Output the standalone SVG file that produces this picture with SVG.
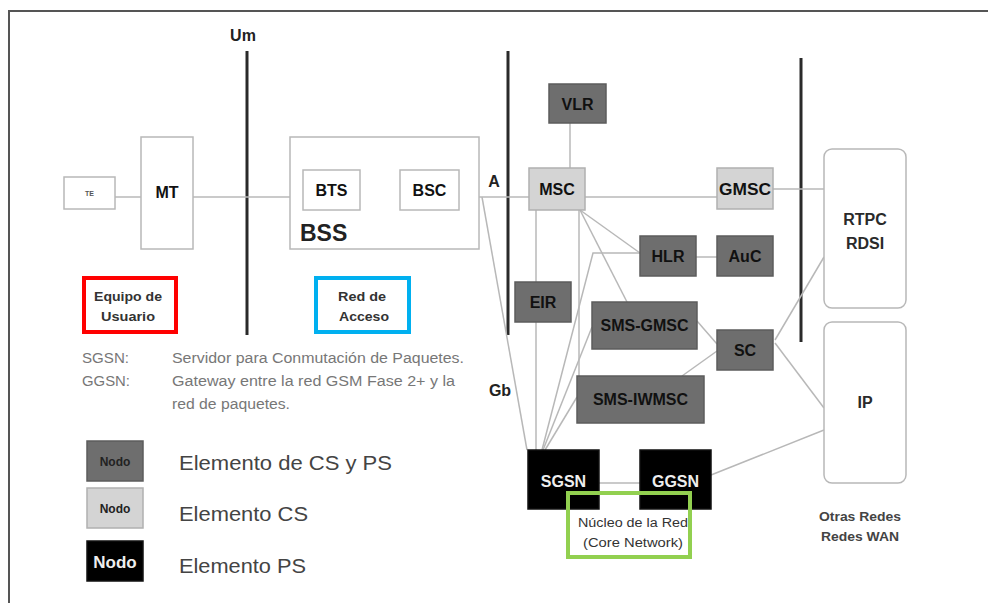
<svg xmlns="http://www.w3.org/2000/svg" width="988" height="603" viewBox="0 0 988 603">
<style>
.t{font-family:"Liberation Sans",Arial,sans-serif}
.nb{font-family:"Liberation Sans",Arial,sans-serif;font-weight:bold;font-size:16px;text-anchor:middle;fill:#111}
.wb{fill:#fff;stroke:#b8b8b8;stroke-width:1.5}
.dk{fill:#6e6e6e;stroke:#5c5c5c;stroke-width:1.5}
.lt{fill:#d4d4d4;stroke:#b0b0b0;stroke-width:1.5}
.bk{fill:#000;stroke:#111;stroke-width:1.5}
.c{stroke:#b8b8b8;stroke-width:1.5;fill:none}
.bar{stroke:#2a2a2a;stroke-width:3}
</style>
<rect width="988" height="603" fill="#fff"/>
<!-- frame -->
<path d="M9,603 V11 H988" fill="none" stroke="#555" stroke-width="2"/>

<!-- interface bars -->
<g id="interfaces">
<line class="bar" x1="247" y1="51" x2="247" y2="335"/>
<line class="bar" x1="508" y1="51" x2="508" y2="335"/>
<line class="bar" x1="801" y1="58" x2="801" y2="342"/>
<text class="t" x="243" y="41" font-size="16" font-weight="bold" text-anchor="middle" fill="#222">Um</text>
<text class="t" x="494" y="187" font-size="16" font-weight="bold" text-anchor="middle" fill="#222">A</text>
<text class="t" x="370" y="166" font-size="16" font-weight="bold" text-anchor="middle" fill="#222">A</text>
<text class="t" x="385" y="171" font-size="7" font-weight="bold" text-anchor="middle" fill="#222">bis</text>
<text class="t" x="500" y="396" font-size="16" font-weight="bold" text-anchor="middle" fill="#222">Gb</text>
</g>

<!-- connectors -->
<g id="connectors">
<line class="c" x1="115" y1="197" x2="141" y2="197"/>
<line class="c" x1="193" y1="197" x2="303" y2="197"/>
<line class="c" x1="360" y1="197" x2="400" y2="197"/>
<line class="c" x1="459" y1="197" x2="529" y2="197"/>
<line class="c" x1="585" y1="197" x2="717" y2="197"/>
<line class="c" x1="773" y1="189" x2="824" y2="189"/>
<line class="c" x1="570" y1="123" x2="570" y2="168"/>
<line class="c" x1="696" y1="257" x2="717" y2="257"/>
<line class="c" x1="482" y1="197" x2="527" y2="450"/>
<line class="c" x1="536" y1="210" x2="536" y2="450"/>
<line class="c" x1="579" y1="210" x2="579" y2="376"/>
<line class="c" x1="580" y1="210" x2="640" y2="253"/>
<line class="c" x1="580" y1="210" x2="627" y2="302"/>
<polyline class="c" points="640,253 593,253 542,450"/>
<line class="c" x1="592" y1="327" x2="543" y2="450"/>
<line class="c" x1="577" y1="397" x2="545" y2="450"/>
<line class="c" x1="697" y1="321" x2="717" y2="344"/>
<line class="c" x1="682" y1="376" x2="717" y2="351"/>
<line class="c" x1="775" y1="340" x2="824" y2="257"/>
<line class="c" x1="775" y1="343" x2="824" y2="408"/>
<line class="c" x1="599" y1="483" x2="640" y2="483"/>
<line class="c" x1="711" y1="475" x2="824" y2="430"/>
</g>

<!-- nodes -->
<g id="te"><rect class="wb" x="64" y="177" width="51" height="32"/><text class="t" x="89.5" y="196" font-size="7" font-weight="bold" text-anchor="middle" fill="#555">TE</text></g>
<g id="mt"><rect class="wb" x="141" y="137" width="52" height="112"/><text class="nb" x="167" y="198">MT</text></g>
<g id="bss"><rect class="wb" x="290" y="137" width="189" height="112"/><text class="t" x="300" y="241" font-size="23" font-weight="bold" fill="#222">BSS</text></g>
<g id="bts"><rect class="wb" x="303" y="170" width="57" height="40"/><text class="nb" x="331.5" y="196">BTS</text></g>
<g id="bsc"><rect class="wb" x="400" y="170" width="59" height="40"/><text class="nb" x="429.5" y="196">BSC</text></g>
<g id="vlr"><rect class="dk" x="549" y="84" width="57" height="39"/><text class="nb" x="577.5" y="110">VLR</text></g>
<g id="msc"><rect class="lt" x="529" y="168" width="56" height="42"/><text class="nb" x="557" y="195">MSC</text></g>
<g id="gmsc"><rect class="lt" x="717" y="168" width="56" height="41"/><text class="nb" x="745" y="195" textLength="52" lengthAdjust="spacingAndGlyphs">GMSC</text></g>
<g id="hlr"><rect class="dk" x="640" y="236" width="56" height="40"/><text class="nb" x="668" y="262">HLR</text></g>
<g id="auc"><rect class="dk" x="717" y="236" width="56" height="40"/><text class="nb" x="745" y="262">AuC</text></g>
<g id="eir"><rect class="dk" x="515" y="282" width="56" height="40"/><text class="nb" x="543" y="308">EIR</text></g>
<g id="smsgmsc"><rect class="dk" x="592" y="302" width="105" height="47"/><text class="nb" x="644.5" y="331">SMS-GMSC</text></g>
<g id="smsiwmsc"><rect class="dk" x="577" y="376" width="127" height="47"/><text class="nb" x="640.5" y="405">SMS-IWMSC</text></g>
<g id="sc"><rect class="dk" x="717" y="330" width="56" height="40"/><text class="nb" x="745" y="356">SC</text></g>
<g id="sgsn"><rect class="bk" x="528" y="450" width="71" height="59"/><text class="nb" x="563.5" y="487" style="fill:#eee">SGSN</text></g>
<g id="ggsn"><rect class="bk" x="640" y="450" width="71" height="59"/><text class="nb" x="675.5" y="487" style="fill:#eee">GGSN</text></g>
<g id="rtpc"><rect class="wb" x="824" y="149" width="82" height="159" rx="8"/><text class="nb" x="865" y="225" style="fill:#2a2a2a">RTPC</text><text class="nb" x="865" y="249" style="fill:#2a2a2a">RDSI</text></g>
<g id="ip"><rect class="wb" x="824" y="322" width="82" height="161" rx="8"/><text class="nb" x="865" y="408" style="fill:#2a2a2a">IP</text></g>

<!-- highlight labels -->
<g id="equipo"><rect x="84" y="278" width="92" height="54" fill="none" stroke="#f00" stroke-width="4"/><text class="t" font-size="12.5" font-weight="bold" text-anchor="middle" fill="#333"><tspan x="128" y="301" textLength="68" lengthAdjust="spacingAndGlyphs">Equipo de</tspan><tspan x="128" y="321" textLength="54" lengthAdjust="spacingAndGlyphs">Usuario</tspan></text></g>
<g id="acceso"><rect x="316" y="278" width="93" height="54" fill="none" stroke="#00b0f0" stroke-width="4"/><text class="t" font-size="12.5" font-weight="bold" text-anchor="middle" fill="#333"><tspan x="362" y="301" textLength="48" lengthAdjust="spacingAndGlyphs">Red de</tspan><tspan x="364" y="321" textLength="50" lengthAdjust="spacingAndGlyphs">Acceso</tspan></text></g>
<g id="nucleo"><rect x="568" y="493" width="122" height="64" fill="none" stroke="#92d050" stroke-width="4"/><text class="t" font-size="12.5" text-anchor="middle" fill="#333"><tspan x="633" y="527" textLength="110" lengthAdjust="spacingAndGlyphs">Núcleo de la Red</tspan><tspan x="633" y="547" textLength="100" lengthAdjust="spacingAndGlyphs">(Core Network)</tspan></text></g>
<g id="otras"><text class="t" font-size="13" font-weight="bold" text-anchor="middle" fill="#444"><tspan x="860" y="521" textLength="82" lengthAdjust="spacingAndGlyphs">Otras Redes</tspan><tspan x="860" y="541" textLength="78" lengthAdjust="spacingAndGlyphs">Redes WAN</tspan></text></g>

<!-- descriptions -->
<g id="desc" class="t" font-size="14" fill="#777">
<text x="82" y="363" textLength="47" lengthAdjust="spacingAndGlyphs">SGSN:</text>
<text x="82" y="386" textLength="48" lengthAdjust="spacingAndGlyphs">GGSN:</text>
<text x="172" y="363" textLength="292" lengthAdjust="spacingAndGlyphs">Servidor para Conmutación de Paquetes.</text>
<text x="172" y="386" textLength="283" lengthAdjust="spacingAndGlyphs">Gateway entre la red GSM Fase 2+ y la</text>
<text x="172" y="409" textLength="118" lengthAdjust="spacingAndGlyphs">red de paquetes.</text>
</g>

<!-- legend -->
<g id="legend">
<rect class="dk" x="87" y="441" width="56" height="40"/><text class="t" x="115" y="466" font-size="12" font-weight="bold" text-anchor="middle" fill="#222">Nodo</text>
<rect class="lt" x="87" y="488" width="56" height="40"/><text class="t" x="115" y="513" font-size="12" font-weight="bold" text-anchor="middle" fill="#222">Nodo</text>
<rect class="bk" x="87" y="541" width="56" height="40"/><text class="t" x="115" y="568" font-size="17" font-weight="bold" text-anchor="middle" fill="#eee">Nodo</text>
<text class="t" x="179" y="470" font-size="21" fill="#444" textLength="213" lengthAdjust="spacingAndGlyphs">Elemento de CS y PS</text>
<text class="t" x="179" y="521" font-size="21" fill="#444" textLength="129" lengthAdjust="spacingAndGlyphs">Elemento CS</text>
<text class="t" x="179" y="573" font-size="21" fill="#444" textLength="127" lengthAdjust="spacingAndGlyphs">Elemento PS</text>
</g>
</svg>
